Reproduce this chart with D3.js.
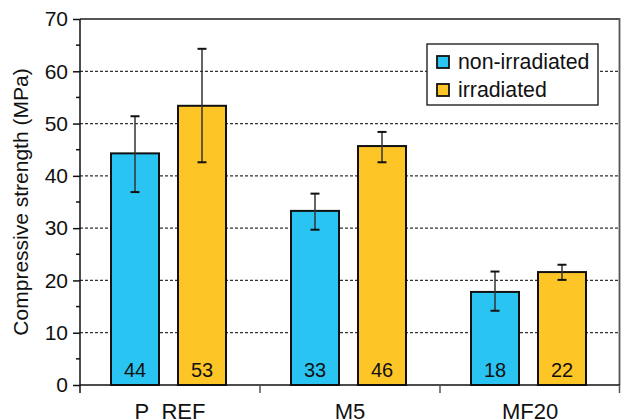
<!DOCTYPE html>
<html><head><meta charset="utf-8">
<script src="https://cdn.jsdelivr.net/npm/d3@7"></script>
<style>body{margin:0;background:#fff}svg{display:block}text{font-family:"Liberation Sans",Arial,sans-serif;fill:#111}</style>
</head><body><div id="chart"></div>
<script>
const categories = ["P_REF", "M5", "MF20"];
const seriesNames = ["non-irradiated", "irradiated"];
const nonIrradiated = [44.3, 33.3, 17.8];
const irradiated = [53.4, 45.7, 21.6];
const nonIrrErrLow = [36.9, 29.7, 14.2];
const nonIrrErrHigh = [51.4, 36.6, 21.7];
const irrErrLow = [42.6, 42.6, 20.1];
const irrErrHigh = [64.3, 48.4, 23.0];
const valueLabels = [["44", "33", "18"], ["53", "46", "22"]];
const yTicks = [0, 10, 20, 30, 40, 50, 60, 70];
const colors = ["#29C4F2", "#FDC526"];

const W = 621, H = 420;
const m = {left: 80, right: 1, top: 19, bottom: 35};
const svg = d3.select("#chart").append("svg").attr("width", W).attr("height", H);
const x = d3.scaleBand().domain(categories).range([m.left, W - m.right]).padding(0);
const y = d3.scaleLinear().domain([0, 70]).range([H - m.bottom, m.top]);
const inner = d3.scaleBand().domain(seriesNames).range([-59, 56]).paddingInner(19/67);

// grid
svg.append("g").selectAll("line").data(yTicks.filter(t => t > 0 && t < 70)).join("line")
  .attr("x1", m.left).attr("x2", W - m.right).attr("y1", d => y(d)).attr("y2", d => y(d))
  .attr("stroke", "#333").attr("stroke-width", 1.3).attr("stroke-dasharray", "3,2");

// frame top/right
svg.append("path").attr("d", `M${m.left},${y(70)}H${W - m.right - 0.5}V${y(0)}`)
  .attr("fill", "none").attr("stroke", "#555").attr("stroke-width", 1.8);

const series = [
  {name: seriesNames[0], vals: nonIrradiated, lo: nonIrrErrLow, hi: nonIrrErrHigh, color: colors[0], labels: valueLabels[0]},
  {name: seriesNames[1], vals: irradiated, lo: irrErrLow, hi: irrErrHigh, color: colors[1], labels: valueLabels[1]}
];
const cx = c => x(c) + x.bandwidth() / 2;

series.forEach(s => {
  const g = svg.append("g");
  const data = categories.map((c, i) => ({c, v: s.vals[i], lo: s.lo[i], hi: s.hi[i], lab: s.labels[i]}));
  g.selectAll("rect").data(data).join("rect")
    .attr("x", d => cx(d.c) + inner(s.name)).attr("width", inner.bandwidth())
    .attr("y", d => y(d.v)).attr("height", d => y(0) - y(d.v))
    .attr("fill", s.color).attr("stroke", "#111").attr("stroke-width", 2);
  const bx = d => cx(d.c) + inner(s.name) + inner.bandwidth() / 2;
  g.selectAll("line.v").data(data).join("line").attr("class", "v")
    .attr("x1", bx).attr("x2", bx).attr("y1", d => y(d.hi)).attr("y2", d => y(d.lo))
    .attr("stroke", "#333").attr("stroke-width", 1.5);
  ["hi", "lo"].forEach(k => {
    g.selectAll("line." + k).data(data).join("line").attr("class", k)
      .attr("x1", d => bx(d) - 4.5).attr("x2", d => bx(d) + 4.5)
      .attr("y1", d => y(d[k])).attr("y2", d => y(d[k]))
      .attr("stroke", "#111").attr("stroke-width", 2);
  });
  g.selectAll("text").data(data).join("text")
    .attr("x", bx).attr("y", y(0) - 8).attr("text-anchor", "middle")
    .attr("font-size", 20).text(d => d.lab);
});

// y axis
const yAxis = d3.axisLeft(y).tickValues(yTicks).tickSize(7).tickPadding(5).tickFormat(d3.format("d"));
const ya = svg.append("g").attr("transform", `translate(${m.left},0)`).call(yAxis);
ya.select(".domain").attr("stroke", "#111").attr("stroke-width", 1.5).attr("d", `M0,${y(70)}V${y(0)}`);
ya.selectAll(".tick line").attr("stroke", "#111").attr("stroke-width", 1.5);
ya.selectAll(".tick text").attr("font-size", 21).attr("font-family", "Liberation Sans, Arial, sans-serif").attr("fill", "#111");
const minor = d3.range(5, 70, 10);
ya.selectAll("line.minor").data(minor).join("line").attr("class", "minor")
  .attr("x1", -4).attr("x2", 0).attr("y1", d => y(d)).attr("y2", d => y(d))
  .attr("stroke", "#111").attr("stroke-width", 1.5);

// x axis
const xa = svg.append("g").attr("transform", `translate(0,${y(0)})`);
xa.append("line").attr("x1", m.left).attr("x2", W - m.right).attr("stroke", "#111").attr("stroke-width", 1.5);
const bounds = [m.left].concat(categories.map(c => x(c) + x.bandwidth()));
xa.selectAll("line.t").data(bounds).join("line").attr("class", "t")
  .attr("x1", d => d === W - m.right ? d - 0.5 : d).attr("x2", d => d === W - m.right ? d - 0.5 : d)
  .attr("y1", 0).attr("y2", 8).attr("stroke", d => d === m.left ? "#111" : "#555").attr("stroke-width", 1.5);
xa.selectAll("text").data(categories).join("text")
  .attr("x", cx).attr("y", 34).attr("text-anchor", "middle").attr("font-size", 22).text(d => d);

// y label
svg.append("text").attr("transform", `translate(27,${(y(0) + y(70)) / 2})`)
  .append("tspan").attr("transform", "rotate(-90)");
svg.append("text").attr("transform", `translate(28,${(y(0) + y(70)) / 2}) rotate(-90)`)
  .attr("text-anchor", "middle").attr("font-size", 21).text("Compressive strength (MPa)");

// legend
const lg = svg.append("g").attr("transform", "translate(427,44)");
lg.append("rect").attr("width", 171).attr("height", 61).attr("fill", "#fff").attr("stroke", "#111").attr("stroke-width", 1.3);
seriesNames.forEach((n, i) => {
  lg.append("rect").attr("x", 10).attr("y", 12 + i * 28).attr("width", 12).attr("height", 12)
    .attr("fill", colors[i]).attr("stroke", "#111").attr("stroke-width", 1.8);
  lg.append("text").attr("x", 31).attr("y", 25 + i * 28).attr("font-size", 21.3).text(n);
});
</script></body></html>
